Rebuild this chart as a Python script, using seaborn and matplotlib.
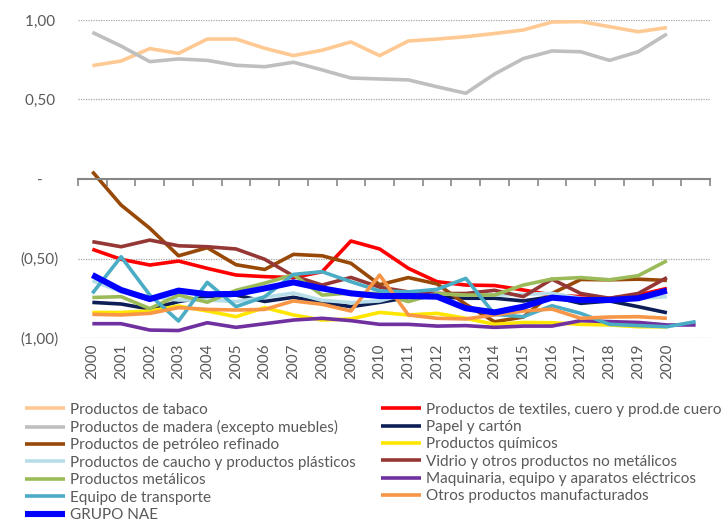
import numpy as np
import pandas as pd
import matplotlib
matplotlib.use("Agg")
import matplotlib.pyplot as plt
import seaborn as sns

# years on the category axis (last slot has no label)
years = [str(y) for y in range(2000, 2021)] + [""]
nan = np.nan

tabaco = [0.713, 0.742, 0.82, 0.79, 0.88, 0.88, 0.822, 0.776, 0.81, 0.862, 0.776,
          0.868, 0.88, 0.895, 0.915, 0.937, 0.987, 0.99, 0.958, 0.926, 0.952, nan]
textiles = [-0.442, -0.505, -0.541, -0.516, -0.562, -0.604, -0.614, -0.62, -0.583, -0.39, -0.44,
            -0.562, -0.646, -0.667, -0.67, -0.698, -0.73, -0.74, -0.75, -0.73, -0.688, nan]
madera = [0.922, 0.836, 0.738, 0.755, 0.746, 0.715, 0.706, 0.734, 0.686, 0.635, 0.629,
          0.623, 0.58, 0.539, 0.66, 0.757, 0.805, 0.80, 0.746, 0.80, 0.912, nan]
papel = [-0.776, -0.786, -0.818, -0.771, -0.74, -0.73, -0.77, -0.744, -0.775, -0.803, -0.776,
         -0.745, -0.74, -0.75, -0.75, -0.767, -0.74, -0.782, -0.767, -0.803, -0.841, nan]
petroleo = [0.046, -0.164, -0.31, -0.483, -0.432, -0.539, -0.569, -0.474, -0.483, -0.53, -0.665,
            -0.62, -0.66, -0.788, -0.898, -0.868, -0.72, -0.632, -0.634, -0.63, -0.638, nan]
quimicos = [-0.839, -0.839, -0.83, -0.799, -0.83, -0.866, -0.809, -0.855, -0.887, -0.88, -0.839,
            -0.855, -0.845, -0.876, -0.914, -0.902, -0.904, -0.914, -0.918, -0.929, -0.93, nan]
caucho = [-0.64, -0.709, -0.74, -0.761, -0.761, -0.771, -0.744, -0.717, -0.763, -0.777, -0.767,
          -0.72, -0.72, -0.73, -0.73, -0.725, -0.719, -0.75, -0.76, -0.75, -0.74, nan]
vidrio = [-0.394, -0.426, -0.384, -0.42, -0.426, -0.44, -0.505, -0.61, -0.667, -0.619, -0.68,
          -0.71, -0.72, -0.72, -0.70, -0.74, -0.63, -0.72, -0.75, -0.72, -0.62, nan]
metalicos = [-0.745, -0.74, -0.815, -0.73, -0.775, -0.70, -0.655, -0.602, -0.73, -0.717, -0.72,
             -0.771, -0.72, -0.73, -0.73, -0.667, -0.629, -0.62, -0.634, -0.608, -0.514, nan]
maquinaria = [-0.91, -0.91, -0.95, -0.953, -0.904, -0.933, -0.91, -0.887, -0.876, -0.891, -0.914,
              -0.914, -0.925, -0.922, -0.933, -0.925, -0.925, -0.891, -0.897, -0.902, -0.918, -0.918]
equipo = [-0.719, -0.489, -0.73, -0.893, -0.65, -0.803, -0.74, -0.6, -0.583, -0.646, -0.704,
          -0.71, -0.694, -0.625, -0.851, -0.866, -0.797, -0.845, -0.914, -0.922, -0.929, -0.897]
otros = [-0.851, -0.855, -0.845, -0.809, -0.82, -0.824, -0.82, -0.767, -0.788, -0.83, -0.604,
         -0.855, -0.876, -0.88, -0.855, -0.83, -0.818, -0.876, -0.868, -0.866, -0.876, nan]
grupo_nae = [-0.604, -0.698, -0.755, -0.702, -0.725, -0.723, -0.688, -0.65, -0.688, -0.719, -0.736,
             -0.736, -0.74, -0.813, -0.839, -0.803, -0.746, -0.761, -0.761, -0.75, -0.702, nan]

series = [
    ("Productos de tabaco", tabaco, "#FFC993", 2.6),
    ("Productos de textiles, cuero y prod.de cuero", textiles, "#FF0000", 2.6),
    ("Productos de madera (excepto muebles)", madera, "#BFBFBF", 2.6),
    ("Papel y cartón", papel, "#0C1E55", 2.6),
    ("Productos de petróleo refinado", petroleo, "#984807", 2.6),
    ("Productos químicos", quimicos, "#FFE600", 2.6),
    ("Productos de caucho y productos plásticos", caucho, "#B7DEE8", 2.6),
    ("Vidrio y otros productos no metálicos", vidrio, "#953735", 2.6),
    ("Productos metálicos", metalicos, "#9BBB59", 2.6),
    ("Maquinaria, equipo y aparatos eléctricos", maquinaria, "#7030A0", 2.6),
    ("Equipo de transporte", equipo, "#4BACC6", 2.6),
    ("Otros productos manufacturados", otros, "#F79646", 2.6),
    ("GRUPO NAE", grupo_nae, "#0000FF", 4.4),
]

sns.set_theme(style="white")
plt.rcParams['font.family'] = ['Lato', 'DejaVu Sans']

fig = plt.figure(figsize=(7.27, 5.23), dpi=100)
ax = fig.add_axes([0.1073, 0.3537, 0.8693, 0.6081])

x = np.arange(len(years))
for name, vals, col, lw in series:
    sns.lineplot(x=x, y=vals, color=col, linewidth=lw, label=name, ax=ax,
                 solid_capstyle="butt")

ax.set_xlim(-0.5, len(years) - 0.5)
ax.set_ylim(-1.0, 1.0)

# dotted gridlines
for yv in [1.0, 0.5, -0.5, -1.0]:
    ax.axhline(yv, color="#A6A6A6", linestyle=(0, (1, 1)), linewidth=0.9, zorder=0)

# category axis crossing at zero
for s in ["left", "right", "top"]:
    ax.spines[s].set_visible(False)
ax.spines["bottom"].set_position(("data", 0))
ax.spines["bottom"].set_color("#868686")
ax.spines["bottom"].set_linewidth(1.5)
ax.set_xticks(np.arange(len(years) + 1) - 0.5)
ax.set_xticklabels([])
ax.tick_params(axis="x", direction="out", length=5, width=1.2, color="#868686", bottom=True)

sec = ax.secondary_xaxis(0.0)
sec.set_xticks(x)
sec.set_xticklabels(years, rotation=90, fontsize=11, color="#595959")
sec.tick_params(length=0, pad=4)
sec.spines["bottom"].set_visible(False)

ax.set_yticks([1.0, 0.5, 0.0, -0.5, -1.0])
ax.set_yticklabels(["1,00 ", "0,50 ", "-    ", "(0,50)", "(1,00)"], fontsize=11, color="#595959")
ax.tick_params(axis="y", length=0, pad=14)

# legend, two columns filled row by row
handles, labels = ax.get_legend_handles_labels()
order = [0, 2, 4, 6, 8, 10, 12, 1, 3, 5, 7, 9, 11]
ax.legend([handles[i] for i in order], [labels[i] for i in order],
          ncol=2, frameon=False, loc="upper left", bbox_to_anchor=(-0.093, -0.184),
          fontsize=11, handlelength=2.6, handletextpad=0.3, columnspacing=1.7,
          labelspacing=0.22, labelcolor="#595959", borderaxespad=0)

fig.savefig("out.png", dpi=100)
